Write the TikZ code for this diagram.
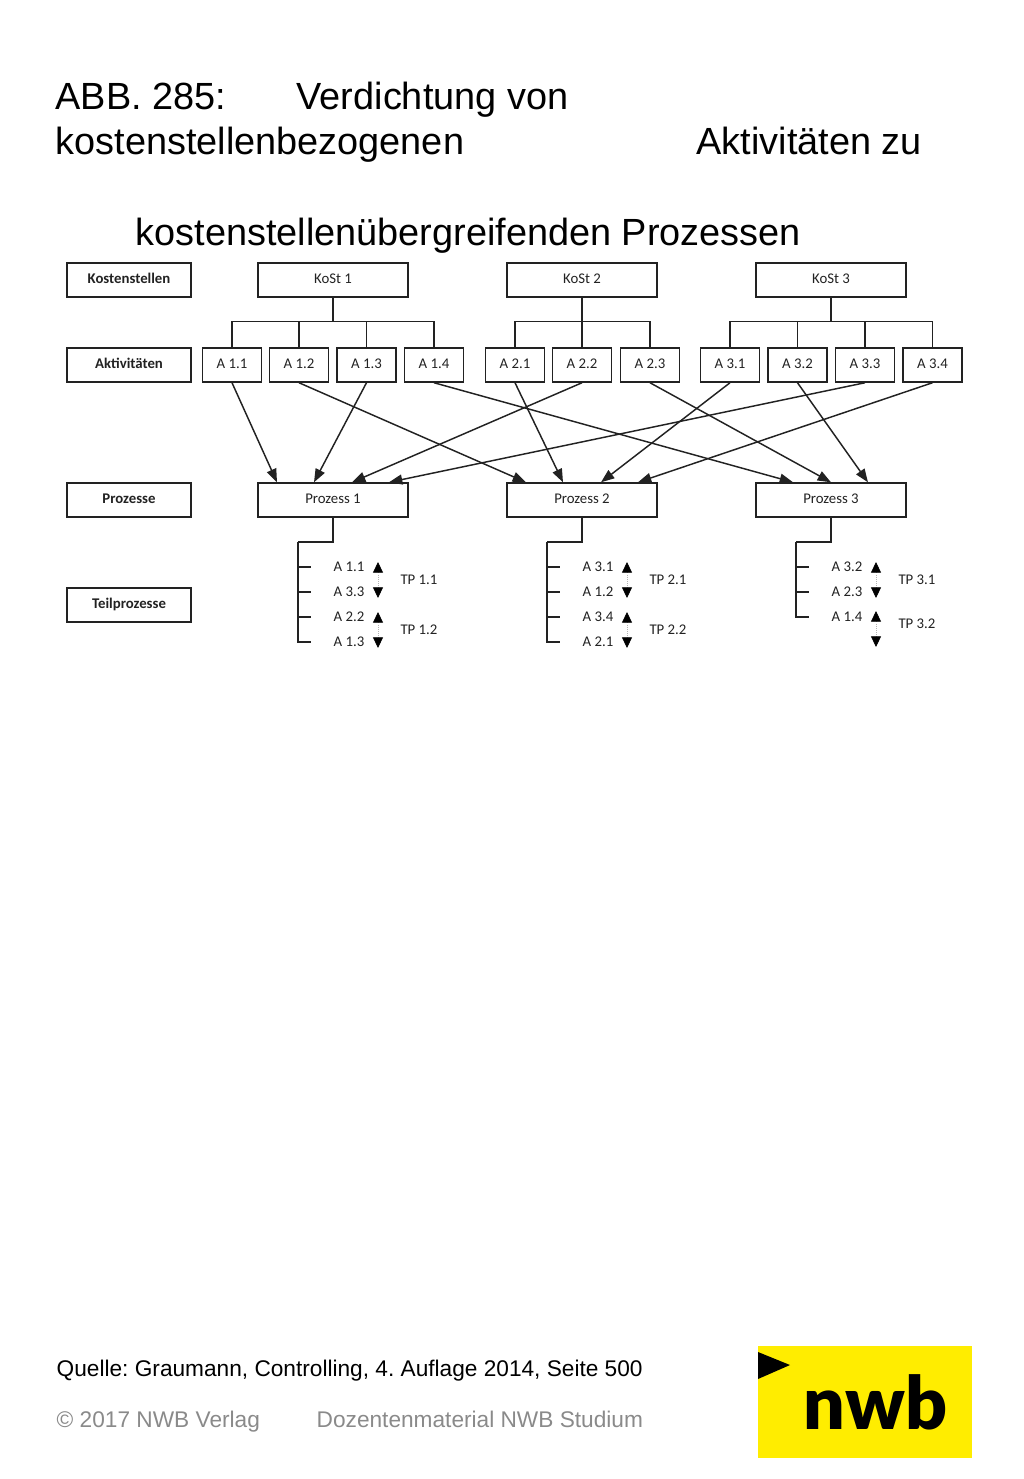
\documentclass[tikz,border=0pt]{standalone}
\usepackage{fontspec}
\setmainfont{Liberation Sans}
\newfontfamily\boxfont{Carlito}
\newfontfamily\logofont{Lato Black}
\usetikzlibrary{arrows.meta, positioning}
\definecolor{nwbyellow}{HTML}{FFED00}
\definecolor{footgray}{HTML}{8A8A8A}
\definecolor{inkgray}{HTML}{222222}

\begin{document}
\frenchspacing
\begin{tikzpicture}[
  x=.75pt, y=-.75pt,
  line width=1.1pt, draw=inkgray,
  head/.style={anchor=base west, inner sep=0pt, font=\fontsize{28.4pt}{30pt}\selectfont},
  foot/.style={anchor=base west, inner sep=0pt, font=\fontsize{17pt}{20pt}\selectfont},
  cat/.style={draw, minimum width=93pt, minimum height=25.5pt, inner sep=0pt, text height=7.5pt, text depth=2.4pt, text=inkgray, font=\boxfont\bfseries\fontsize{11.1pt}{12pt}\selectfont},
  cost/.style={draw, minimum width=112.5pt, minimum height=25.5pt, inner sep=0pt, text height=7.5pt, text depth=2.4pt, text=inkgray, font=\boxfont\fontsize{11.1pt}{12pt}\selectfont},
  act/.style={draw, minimum width=44.5pt, minimum height=25.5pt, inner sep=0pt, text height=7.5pt, text depth=2.4pt, text=inkgray, font=\boxfont\fontsize{11.1pt}{12pt}\selectfont},
  lab/.style={inner sep=0pt, text=inkgray, font=\boxfont\fontsize{11.1pt}{12pt}\selectfont},
  flow/.style={-{Stealth[length=10pt,width=7.5pt,inset=0pt]}},
  span/.style={{Stealth[length=8pt,width=7.5pt,inset=0pt,color=black]}-{Stealth[length=8pt,width=7.5pt,inset=0pt,color=black]}, draw=gray!60, densely dotted, line width=.6pt},
  ]
  \useasboundingbox (0,0) rectangle (1024,1479);

  \node[head] (T1) at (55,109) {ABB. 285:};
  \node[head] (T2) at (296,109) {Verdichtung von};
  \node[head] (T3) at (55,154) {kostenstellenbezogenen};
  \node[head] (T4) at (696,154) {Aktivitäten zu};
  \node[head] (T5) at (135,245) {kostenstellenübergreifenden Prozessen};

  \node[cat] (C1) at (129,280) {Kostenstellen};
  \node[cat] (C2) at (129,365) {Aktivitäten};
  \node[cat] (C3) at (129,500) {Prozesse};
  \node[cat] (C4) at (129,605) {Teilprozesse};

  \foreach \k/\x in {1/333, 2/582, 3/831} {
    \node[cost] (K\k) at (\x,280) {KoSt \k};
    \node[cost] (P\k) at (\x,500) {Prozess \k};
  }

  \foreach \n/\t/\x in {A11/1.1/232, A12/1.2/299, A13/1.3/366.5, A14/1.4/434,
      A21/2.1/515, A22/2.2/582, A23/2.3/650,
      A31/3.1/730, A32/3.2/797.5, A33/3.3/865, A34/3.4/932.5}
    \node[act] (\n) at (\x,365) {A \t};

  \foreach \k/\a in {K1/A11, K1/A12, K1/A13, K1/A14, K2/A21, K2/A22, K2/A23,
      K3/A31, K3/A32, K3/A33, K3/A34}
    \draw (\k.south) |- ([yshift=19.5pt]\a.north) -- (\a.north);

  \foreach \a/\p/\o in {A11/P1/-56, A13/P1/-19, A22/P1/19, A33/P1/56,
      A12/P2/-56, A21/P2/-19, A31/P2/19, A34/P2/56,
      A14/P3/-38, A23/P3/0, A32/P3/37}
    \draw[flow] (\a.south) -- ([xshift=\o*.75pt]\p.north);

  \foreach \p/\x in {P1/298, P2/547, P3/796} {
    \coordinate (\p r) at (\x,542);
    \draw (\p.south) |- (\p r);
  }

  \foreach \p/\x/\y/\t in {P1/298/567/1.1, P1/298/592/3.3, P1/298/617/2.2, P1/298/642/1.3,
      P2/547/567/3.1, P2/547/592/1.2, P2/547/617/3.4, P2/547/642/2.1,
      P3/796/567/3.2, P3/796/592/2.3, P3/796/617/1.4} {
    \coordinate (t\x\y) at (\x+13,\y);
    \draw (\p r) |- (t\x\y);
    \node[lab, anchor=west] (L\x\y) at (\x+35,\y) {A \t};
  }

  \foreach \x/\ya/\yb in {378/562/598, 378/612/648, 627/562/598, 627/612/648, 876/562/598, 876/611/647} {
    \coordinate (u\x\ya) at (\x,\ya);
    \coordinate (d\x\ya) at (\x,\yb);
    \draw[span] (u\x\ya) -- (d\x\ya);
  }

  \foreach \x/\y/\t in {419/580/1.1, 419/630/1.2, 668/580/2.1, 668/630/2.2, 917/580/3.1, 917/624/3.2}
    \node[lab] (TP\x\y) at (\x,\y) {TP \t};

  \node[foot] (Q) at (56,1376) {Quelle: Graumann, Controlling, 4. Auflage 2014, Seite 500};
  \node[foot, text=footgray] (F1) at (56,1427) {© 2017 NWB Verlag};
  \node[foot, text=footgray] (F2) at (316,1427) {Dozentenmaterial NWB Studium};

  \fill[nwbyellow] (758,1346) rectangle (972,1458);
  \fill[black] (758,1352) -- (790,1365) -- (758,1379) -- cycle;
  \node[anchor=base west, inner sep=0pt, text=black, font=\logofont\fontsize{55pt}{60pt}\selectfont] (N) at (803,1429) {nwb};
\end{tikzpicture}
\end{document}
